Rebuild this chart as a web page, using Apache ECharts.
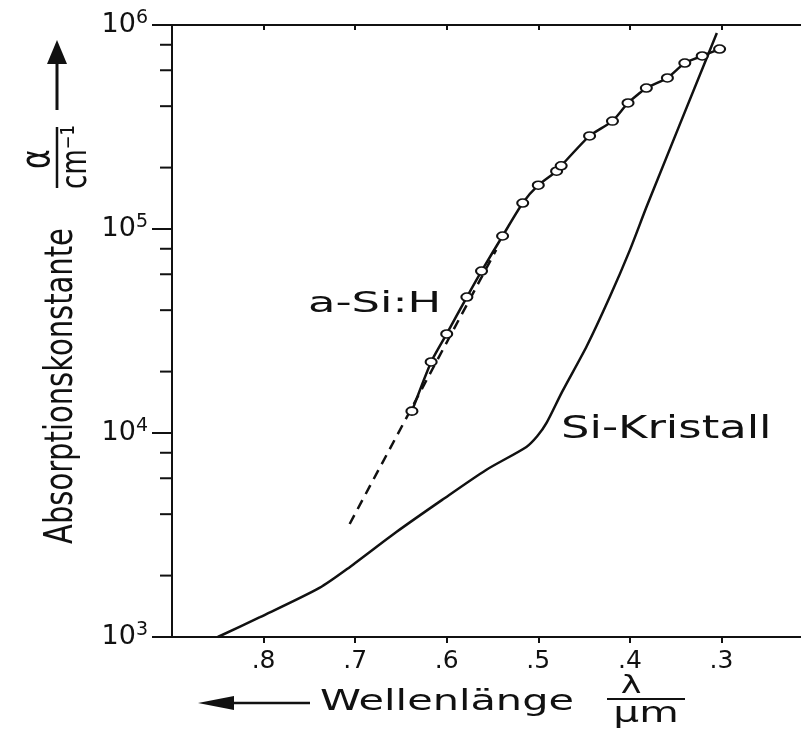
<!DOCTYPE html>
<html>
<head>
<meta charset="utf-8">
<script src="https://cdn.jsdelivr.net/npm/echarts@6/dist/echarts.min.js"></script>
<style>
  html, body { margin: 0; padding: 0; background: #fff; }
  #absChart { width: 801px; height: 731px; }
</style>
</head>
<body>
<div id="absChart"></div>
<script>
// Wellenlänge in µm, Absorptionskonstante in 1/cm
const siLambda = [0.850, 0.804, 0.739, 0.706, 0.655, 0.605, 0.557, 0.513, 0.501, 0.491, 0.474, 0.447, 0.422, 0.400, 0.381, 0.305];
const siAlpha = [1000, 1250, 1740, 2200, 3270, 4700, 6590, 8540, 9660, 11200, 15900, 26700, 46400, 78800, 131000, 914000];

const aSiLambda = [0.638, 0.617, 0.600, 0.578, 0.562, 0.539, 0.517, 0.500, 0.480, 0.475, 0.444, 0.419, 0.402, 0.382, 0.359, 0.340, 0.321, 0.302];
const aSiAlpha = [12800, 22300, 30600, 46400, 62200, 92400, 134000, 164000, 192000, 204000, 286000, 338000, 415000, 491000, 550000, 651000, 705000, 762000];

// gestrichelte Extrapolation
const dashLambda = [0.706, 0.546];
const dashAlpha = [3580, 79000];

const xTicks = [0.3, 0.4, 0.5, 0.6, 0.7, 0.8];
const yMinorTicks = [2e3, 4e3, 6e3, 8e3, 2e4, 4e4, 6e4, 8e4, 2e5, 4e5, 6e5, 8e5];
const xMin = 0.2, xMax = 0.9;

const FONT = '"DejaVu Sans", sans-serif';
const zip = (a, b) => a.map((v, i) => [v, b[i]]);

const chart = echarts.init(document.getElementById('absChart'));

const xBase = {
  type: 'value',
  inverse: true,
  min: xMin,
  max: xMax,
  interval: 0.1,
  splitLine: {show: false},
  axisLine: {show: true, lineStyle: {color: '#111', width: 2}},
};

const option = {
  backgroundColor: '#fff',
  animation: false,
  grid: {left: 172, top: 25, width: 641, height: 612, containLabel: false, outerBoundsMode: 'none'},
  xAxis: [
    Object.assign({}, xBase, {
      position: 'bottom',
      axisTick: {show: true, inside: false, length: 6, customValues: xTicks, lineStyle: {color: '#111', width: 2}},
      axisLabel: {
        customValues: xTicks,
        margin: 12,
        color: '#111',
        fontSize: 25,
        fontFamily: FONT,
        formatter: v => (v > 0.25 && v < 0.85) ? '.' + Math.round(v * 10) : ''
      }
    }),
    Object.assign({}, xBase, {
      position: 'top',
      axisTick: {show: true, inside: true, length: 5, customValues: xTicks, lineStyle: {color: '#111', width: 2}},
      axisLabel: {show: false}
    })
  ],
  yAxis: {
    type: 'log',
    logBase: 10,
    min: 1000,
    max: 1000000,
    splitLine: {show: false},
    axisLine: {show: true, lineStyle: {color: '#111', width: 2}},
    axisTick: {show: true, inside: false, length: 20, lineStyle: {color: '#111', width: 2}},
    axisLabel: {
      margin: 24,
      formatter: v => '{b|10}{s|' + Math.round(Math.log10(v)) + '}',
      rich: {
        b: {fontSize: 27, fontFamily: FONT, color: '#111', lineHeight: 32},
        s: {fontSize: 19, fontFamily: FONT, color: '#111', verticalAlign: 'top', lineHeight: 19}
      }
    }
  },
  series: [
    {
      // Nebenstriche der log. Achse
      type: 'custom',
      silent: true,
      clip: false,
      data: yMinorTicks.map(v => [xMax, v]),
      renderItem: (params, api) => {
        const p = api.coord([api.value(0), api.value(1)]);
        return {
          type: 'line',
          shape: {x1: p[0] - 12, y1: p[1], x2: p[0], y2: p[1]},
          style: {stroke: '#111', lineWidth: 2}
        };
      }
    },
    {
      name: 'a-Si:H extrapoliert',
      type: 'line',
      z: 2,
      showSymbol: false,
      data: zip(dashLambda, dashAlpha),
      lineStyle: {color: '#111', width: 2.5, type: [10, 7]}
    },
    {
      name: 'Si-Kristall',
      type: 'line',
      z: 3,
      smooth: 0.25,
      showSymbol: false,
      data: zip(siLambda, siAlpha),
      lineStyle: {color: '#111', width: 2.5}
    },
    {
      name: 'a-Si:H',
      type: 'line',
      z: 4,
      smooth: 0.2,
      symbol: 'circle',
      symbolSize: [11, 8],
      data: zip(aSiLambda, aSiAlpha),
      itemStyle: {color: '#fff', borderColor: '#111', borderWidth: 1.8},
      lineStyle: {color: '#111', width: 2.5}
    }
  ],
  graphic: {
    elements: [
      // Pfeil nach oben an der y-Achse
      {type: 'line', shape: {x1: 57, y1: 110, x2: 57, y2: 60}, style: {stroke: '#111', lineWidth: 3}},
      {type: 'polygon', shape: {points: [[57, 40], [47, 64], [67, 64]]}, style: {fill: '#111'}},
      // alpha / cm^-1
      {type: 'line', shape: {x1: 57, y1: 127, x2: 57, y2: 188}, style: {stroke: '#111', lineWidth: 2.5}},
      {type: 'text', x: 38, y: 159, rotation: Math.PI / 2, scaleY: 1.35,
        style: {text: 'α', fontSize: 30, fontFamily: FONT, fill: '#111', align: 'center', verticalAlign: 'middle'}},
      {type: 'text', x: 77, y: 157, rotation: Math.PI / 2, scaleY: 1.35,
        style: {text: 'cm⁻¹', fontSize: 26, fontFamily: FONT, fill: '#111', align: 'center', verticalAlign: 'middle'}},
      {type: 'text', x: 62, y: 386, rotation: Math.PI / 2, scaleY: 1.35,
        style: {text: 'Absorptionskonstante', fontSize: 29, fontFamily: FONT, fill: '#111', align: 'center', verticalAlign: 'middle'}},
      // Pfeil nach links an der x-Achse
      {type: 'line', shape: {x1: 228, y1: 703, x2: 310, y2: 703}, style: {stroke: '#111', lineWidth: 2.5}},
      {type: 'polygon', shape: {points: [[198, 703], [234, 696], [234, 710]]}, style: {fill: '#111'}},
      {type: 'text', x: 320, y: 702, scaleX: 1.43,
        style: {text: 'Wellenlänge', fontSize: 29, fontFamily: FONT, fill: '#111', align: 'left', verticalAlign: 'middle'}},
      {type: 'text', x: 631, y: 686, scaleX: 1.4,
        style: {text: 'λ', fontSize: 25, fontFamily: FONT, fill: '#111', align: 'center', verticalAlign: 'middle'}},
      {type: 'line', shape: {x1: 607, y1: 699, x2: 685, y2: 699}, style: {stroke: '#111', lineWidth: 2}},
      {type: 'text', x: 646, y: 715, scaleX: 1.45,
        style: {text: 'μm', fontSize: 28, fontFamily: FONT, fill: '#111', align: 'center', verticalAlign: 'middle'}},
      // Kurvenbeschriftungen
      {type: 'text', x: 308, y: 305, scaleX: 1.6,
        style: {text: 'a-Si:H', fontSize: 28, fontFamily: FONT, fill: '#111', align: 'left', verticalAlign: 'middle'}},
      {type: 'text', x: 561, y: 430, scaleX: 1.4,
        style: {text: 'Si-Kristall', fontSize: 32, fontFamily: FONT, fill: '#111', align: 'left', verticalAlign: 'middle'}}
    ]
  }
};

chart.setOption(option);
</script>
</body>
</html>
